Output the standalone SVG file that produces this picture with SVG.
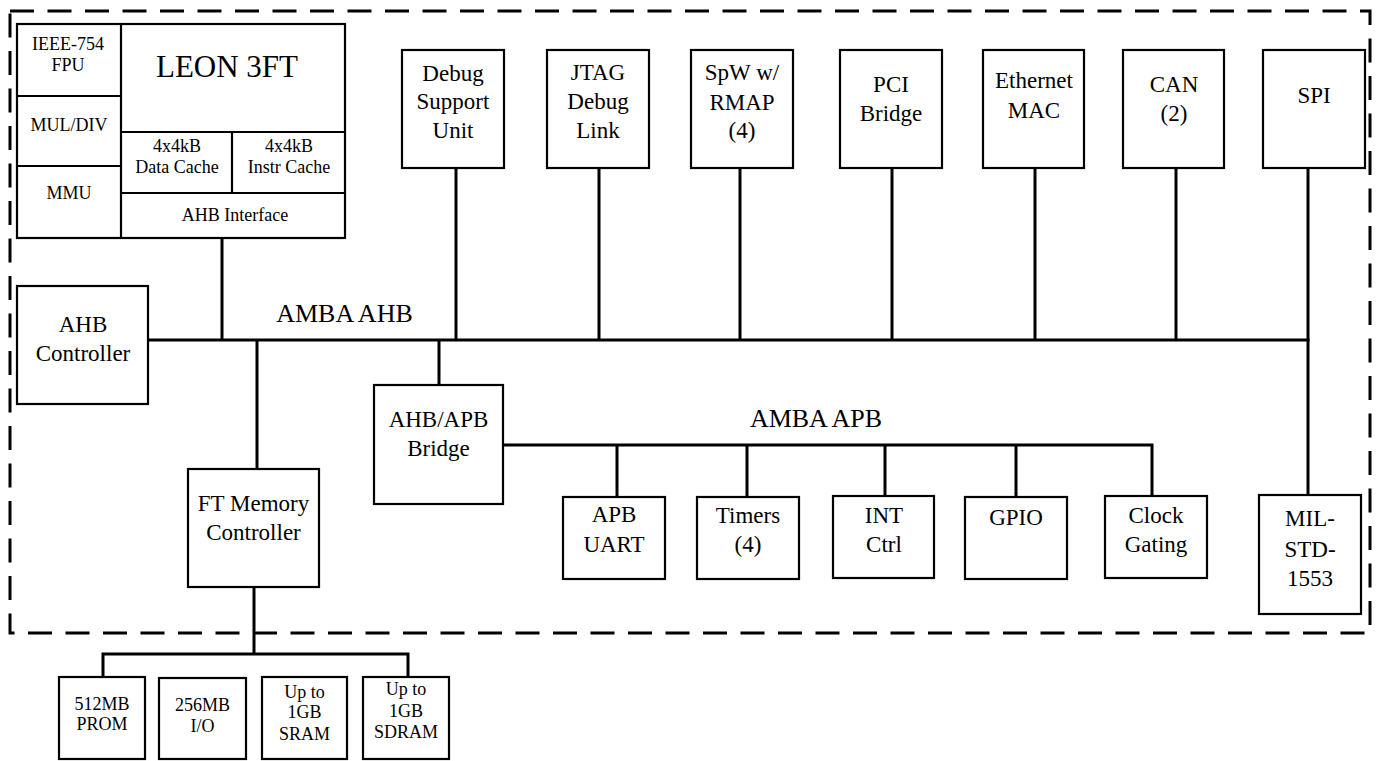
<svg xmlns="http://www.w3.org/2000/svg" width="1377" height="761" viewBox="0 0 1377 761">
<style>
.box{fill:#fff;stroke:#000;stroke-width:2.2}
.ln{fill:none;stroke:#000;stroke-width:3}
.div{fill:none;stroke:#000;stroke-width:2.2}
.border{fill:none;stroke:#000;stroke-width:3;stroke-dasharray:24 13.5}
.t{font-size:23px}
.s{font-size:18px}
.b{font-size:26px}
</style>
<rect width="1377" height="761" fill="#fff"/>
<rect class="border" x="10" y="11" width="1360" height="622"/>
<g id="connectors">
<line class="ln" x1="147" y1="340" x2="1309.5" y2="340"/>
<line class="ln" x1="222" y1="238" x2="222" y2="340"/>
<line class="ln" x1="456" y1="168" x2="456" y2="340"/>
<line class="ln" x1="599" y1="168" x2="599" y2="340"/>
<line class="ln" x1="740" y1="168" x2="740" y2="340"/>
<line class="ln" x1="892" y1="168" x2="892" y2="340"/>
<line class="ln" x1="1035" y1="168" x2="1035" y2="340"/>
<line class="ln" x1="1176" y1="168" x2="1176" y2="340"/>
<line class="ln" x1="1308" y1="168" x2="1308" y2="495"/>
<line class="ln" x1="257" y1="340" x2="257" y2="469"/>
<line class="ln" x1="439" y1="340" x2="439" y2="385"/>
<polyline class="ln" points="503,445 1152,445 1152,496"/>
<line class="ln" x1="617" y1="445" x2="617" y2="497"/>
<line class="ln" x1="747" y1="445" x2="747" y2="497"/>
<line class="ln" x1="885" y1="445" x2="885" y2="496"/>
<line class="ln" x1="1016" y1="445" x2="1016" y2="497"/>
<line class="ln" x1="254" y1="587" x2="254" y2="654"/>
<polyline class="ln" points="103,677 103,654 408,654 408,677"/>
</g>
<g font-family="Liberation Serif, serif" text-anchor="middle" fill="#000">
<g id="leon3ft">
<rect class="box" x="17" y="24" width="328" height="214"/>
<line class="div" x1="121" y1="24" x2="121" y2="238"/>
<line class="div" x1="17" y1="96" x2="121" y2="96"/>
<line class="div" x1="17" y1="166" x2="121" y2="166"/>
<line class="div" x1="121" y1="132" x2="345" y2="132"/>
<line class="div" x1="121" y1="193" x2="345" y2="193"/>
<line class="div" x1="232" y1="132" x2="232" y2="193"/>
<text x="227" y="77" font-size="31">LEON 3FT</text>
<text class="s" x="68" y="50">IEEE-754</text>
<text class="s" x="68" y="71">FPU</text>
<text class="s" x="69" y="131">MUL/DIV</text>
<text class="s" x="69" y="199">MMU</text>
<text class="s" x="177" y="152">4x4kB</text>
<text class="s" x="177" y="173">Data Cache</text>
<text class="s" x="289" y="152">4x4kB</text>
<text class="s" x="289" y="173">Instr Cache</text>
<text class="s" x="235" y="221">AHB Interface</text>
</g>
<g id="dsu">
<rect class="box" x="402" y="50" width="102" height="118"/>
<text class="t" x="453" y="81">Debug</text>
<text class="t" x="453" y="109">Support</text>
<text class="t" x="453" y="138">Unit</text>
</g>
<g id="jtag">
<rect class="box" x="547" y="50" width="102" height="118"/>
<text class="t" x="598" y="80">JTAG</text>
<text class="t" x="598" y="109">Debug</text>
<text class="t" x="598" y="138">Link</text>
</g>
<g id="spw">
<rect class="box" x="691" y="50" width="102" height="118"/>
<text class="t" x="742" y="80">SpW w/</text>
<text class="t" x="742" y="110">RMAP</text>
<text class="t" x="742" y="138">(4)</text>
</g>
<g id="pci">
<rect class="box" x="840" y="50" width="102" height="118"/>
<text class="t" x="891" y="92">PCI</text>
<text class="t" x="891" y="121">Bridge</text>
</g>
<g id="ethernet">
<rect class="box" x="983" y="50" width="101" height="118"/>
<text class="t" x="1034" y="88">Ethernet</text>
<text class="t" x="1034" y="118">MAC</text>
</g>
<g id="can">
<rect class="box" x="1123" y="50" width="101" height="118"/>
<text class="t" x="1174" y="92">CAN</text>
<text class="t" x="1174" y="121">(2)</text>
</g>
<g id="spi">
<rect class="box" x="1263" y="50" width="102" height="118"/>
<text class="t" x="1314" y="103">SPI</text>
</g>
<g id="ahbctrl">
<rect class="box" x="17" y="286" width="131" height="118"/>
<text class="t" x="83" y="332">AHB</text>
<text class="t" x="83" y="361">Controller</text>
</g>
<g id="amba-ahb-label">
<text class="b" x="344.5" y="322">AMBA AHB</text>
</g>
<g id="ahbapb">
<rect class="box" x="374" y="385" width="129" height="119"/>
<text class="t" x="438.5" y="427">AHB/APB</text>
<text class="t" x="438.5" y="456">Bridge</text>
</g>
<g id="amba-apb-label">
<text class="b" x="816" y="427">AMBA APB</text>
</g>
<g id="uart">
<rect class="box" x="563" y="497" width="102" height="82"/>
<text class="t" x="614" y="522">APB</text>
<text class="t" x="614" y="552">UART</text>
</g>
<g id="timers">
<rect class="box" x="697" y="497" width="102" height="82"/>
<text class="t" x="748" y="523">Timers</text>
<text class="t" x="748" y="552">(4)</text>
</g>
<g id="intctrl">
<rect class="box" x="833" y="496" width="101" height="82"/>
<text class="t" x="884" y="523">INT</text>
<text class="t" x="884" y="552">Ctrl</text>
</g>
<g id="gpio">
<rect class="box" x="965" y="497" width="102" height="82"/>
<text class="t" x="1016" y="525">GPIO</text>
</g>
<g id="clockgating">
<rect class="box" x="1105" y="496" width="102" height="82"/>
<text class="t" x="1156" y="523">Clock</text>
<text class="t" x="1156" y="552">Gating</text>
</g>
<g id="milstd1553">
<rect class="box" x="1259" y="495" width="102" height="119"/>
<text class="t" x="1310" y="526">MIL-</text>
<text class="t" x="1310" y="557">STD-</text>
<text class="t" x="1310" y="586">1553</text>
</g>
<g id="ftmemctrl">
<rect class="box" x="188" y="469" width="131" height="118"/>
<text class="t" x="253.5" y="511">FT Memory</text>
<text class="t" x="253.5" y="540">Controller</text>
</g>
<g id="prom">
<rect class="box" x="59" y="677" width="86" height="82"/>
<text class="s" x="102" y="710">512MB</text>
<text class="s" x="102" y="730">PROM</text>
</g>
<g id="io">
<rect class="box" x="159" y="678" width="87" height="81"/>
<text class="s" x="202.5" y="711">256MB</text>
<text class="s" x="202.5" y="732">I/O</text>
</g>
<g id="sram">
<rect class="box" x="262" y="677" width="85" height="82"/>
<text class="s" x="304.5" y="698">Up to</text>
<text class="s" x="304.5" y="718">1GB</text>
<text class="s" x="304.5" y="740">SRAM</text>
</g>
<g id="sdram">
<rect class="box" x="363" y="677" width="86" height="82"/>
<text class="s" x="406" y="695">Up to</text>
<text class="s" x="406" y="717">1GB</text>
<text class="s" x="406" y="738">SDRAM</text>
</g>
</g>
</svg>
